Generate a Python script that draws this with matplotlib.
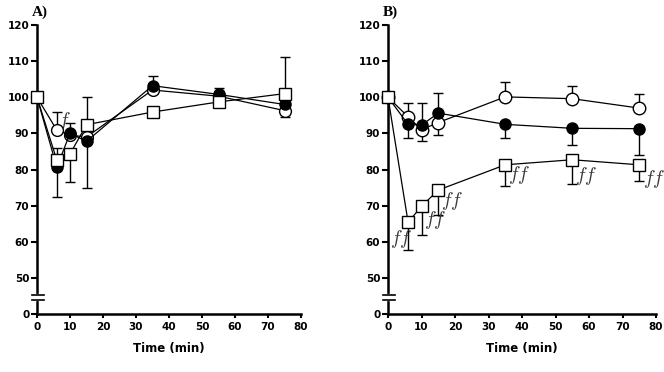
import numpy as np
import matplotlib
matplotlib.use('Agg')
import matplotlib.pyplot as plt

plt.rcParams['mathtext.fontset'] = 'cm'

# time points (min)
t = [0, 6, 10, 15, 35, 55, 75]

# panel A
a_open = [100, 90.9, 89.5, 89.0, 102.0, 100.3, 96.3]
a_open_lo = [0, 0, 0, 0, 0, 0, 1.8]
a_open_hi = [0, 5.1, 0, 0, 0, 0, 0]
a_fill = [100, 80.6, 90.0, 87.8, 103.2, 100.8, 98.0]
a_fill_lo = [0, 8.1, 0, 12.8, 0, 0, 0]
a_fill_hi = [0, 0, 3.0, 0, 2.6, 1.7, 0]
a_sq = [100, 82.6, 84.3, 92.4, 95.9, 98.7, 101.0]
a_sq_lo = [0, 0, 7.8, 0, 0, 0, 0]
a_sq_hi = [0, 3.4, 0, 7.6, 0, 0, 10.2]

# panel B
b_open = [100, 94.6, 91.0, 93.0, 100.1, 99.6, 97.0]
b_open_lo = [0, 0, 3.2, 3.5, 0, 0, 0]
b_open_hi = [0, 3.9, 0, 0, 4.2, 3.6, 3.8]
b_fill = [100, 92.5, 92.3, 95.6, 92.5, 91.4, 91.3]
b_fill_lo = [0, 3.8, 0, 0, 3.7, 4.7, 7.2]
b_fill_hi = [0, 0, 6.1, 5.6, 0, 0, 0]
b_sq = [100, 65.4, 69.8, 74.3, 81.3, 82.7, 81.3]
b_sq_lo = [0, 7.7, 8.0, 6.8, 5.8, 6.6, 4.6]
b_sq_hi = [0, 0, 0, 0, 0, 0, 0]

# significance labels ("ff") for panel B squares
b_sig_x = [4.0, 14.0, 19.0, 39.0, 59.0, 79.5]
b_sig_y = [60.8, 66.0, 71.2, 78.4, 78.2, 77.3]

yticks = [0, 50, 60, 70, 80, 90, 100, 110, 120]


def fwd(y):
    y = np.asarray(y, dtype=float)
    return np.where(y <= 50, y * 0.2, y - 40)


def inv(z):
    z = np.asarray(z, dtype=float)
    return np.where(z <= 10, z * 5, z + 40)


fig = plt.figure(figsize=(6.64, 3.72), dpi=100)
axA = fig.add_axes([37/664, 1-314/372, 264/664, 289/372])
axB = fig.add_axes([388/664, 1-314/372, 268/664, 289/372])

sigfont = dict(fontsize=14, color='#3a3a3a')


def series(ax, y, lo, hi, marker, face, z, ms):
    ax.errorbar(t, y, yerr=[lo, hi], fmt='none', ecolor='black', elinewidth=1,
                capsize=3.5, capthick=1, zorder=2, clip_on=False)
    ax.plot(t, y, color='black', lw=0.9, marker=marker, mfc=face, mec='black',
            mew=1.0, ms=ms, zorder=z, clip_on=False)


def style(ax):
    ax.set_yscale('function', functions=(fwd, inv))
    ax.set_ylim(0, 120)
    ax.set_xlim(0, 80)
    ax.set_yticks(yticks)
    ax.set_xticks(range(0, 81, 10))
    for s in ['top', 'right']:
        ax.spines[s].set_visible(False)
    for s in ['left', 'bottom']:
        ax.spines[s].set_linewidth(1.8)
    ax.tick_params(axis='y', direction='out', length=4, width=1.5, pad=1.5)
    ax.tick_params(axis='x', direction='out', length=3, width=1.5, pad=3)
    for lab in ax.get_xticklabels() + ax.get_yticklabels():
        lab.set_fontweight('bold')
        lab.set_fontsize(7.5)
    ax.set_xlabel('Time (min)', fontsize=8.5, fontweight='bold', labelpad=7)
    # axis break
    tr = ax.get_yaxis_transform()
    ax.plot([0, 0], [20.5, 25], color='white', lw=3, transform=tr, clip_on=False, zorder=6)
    for yb in (19.5, 26):
        ax.plot([-0.02, 0.025], [yb, yb], color='black', lw=1.2, transform=tr,
                clip_on=False, zorder=7)


series(axA, a_open, a_open_lo, a_open_hi, 'o', 'white', 3, 8.5)
series(axA, a_fill, a_fill_lo, a_fill_hi, 'o', 'black', 4, 8)
series(axA, a_sq, a_sq_lo, a_sq_hi, 's', 'white', 5, 8.5)
axA.text(8.3, 93.5, r'$f$', ha='center', va='center', zorder=2.5, **sigfont)
style(axA)

series(axB, b_open, b_open_lo, b_open_hi, 'o', 'white', 3, 9)
series(axB, b_fill, b_fill_lo, b_fill_hi, 'o', 'black', 4, 8)
series(axB, b_sq, b_sq_lo, b_sq_hi, 's', 'white', 5, 8.5)
for x, y in zip(b_sig_x, b_sig_y):
    axB.text(x, y, r'$ff$', ha='center', va='center', zorder=6, clip_on=False, **sigfont)
style(axB)

fig.text(32/664, 1-16/372, 'A)', family='Liberation Serif', fontweight='bold', fontsize=11)
fig.text(383/664, 1-16/372, 'B)', family='Liberation Serif', fontweight='bold', fontsize=11)

fig.savefig('out.png', dpi=100)
